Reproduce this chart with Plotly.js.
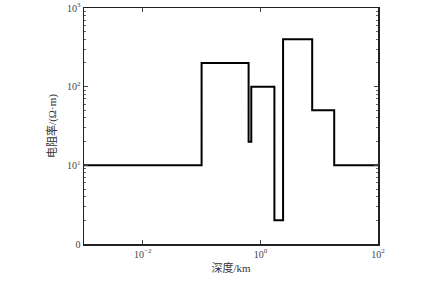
<!DOCTYPE html>
<html><head><meta charset="utf-8">
<script src="https://cdn.plot.ly/plotly-3.0.1.min.js"></script>
<style>html,body{margin:0;padding:0;background:#fff}#c{width:438px;height:282px}</style>
</head><body><div id="c"></div>
<script>
const depthTops = [0.001, 0.1, 0.63, 0.70, 1.73, 2.43, 7.6, 18, 100];
const resistivity = [10, 200, 20, 100, 2, 400, 50, 10, 10];
const xTickVals = [0.01, 1, 100];
const xTickText = ['10<sup>−2</sup>', '10<sup>0</sup>', '10<sup>2</sup>'];
const yTickVals = [1, 10, 100, 1000];
const yTickText = ['0', '10<sup>1</sup>', '10<sup>2</sup>', '10<sup>3</sup>'];
const yMinor = [];
[1, 10, 100].forEach(d => { for (let k = 2; k <= 9; k++) yMinor.push(k * d); });

const font = 'Times New Roman, Liberation Serif, Noto Sans CJK SC, serif';
Plotly.newPlot('c', [{
  x: depthTops, y: resistivity, type: 'scatter', mode: 'lines',
  line: {shape: 'hv', color: '#000', width: 2}
}], {
  width: 438, height: 282,
  margin: {l: 84, r: 60, t: 8, b: 38},
  paper_bgcolor: '#fff', plot_bgcolor: '#fff',
  showlegend: false,
  font: {family: font, color: '#333', size: 10},
  xaxis: {
    type: 'log', range: [-3, 2], showgrid: false, zeroline: false,
    showline: true, linecolor: '#222', linewidth: 1.5, mirror: 'allticks',
    ticks: 'inside', ticklen: 4, tickcolor: '#444',
    tickmode: 'array', tickvals: xTickVals, ticktext: xTickText,
    tickfont: {size: 10, family: font, color: '#444'},
    title: {text: '深度/km', font: {size: 11, family: font, color: '#333'}, standoff: 6}
  },
  yaxis: {
    type: 'log', range: [0, 3], showgrid: false, zeroline: false,
    showline: true, linecolor: '#222', linewidth: 1.5, mirror: 'allticks',
    ticks: 'inside', ticklen: 4, tickcolor: '#444',
    tickmode: 'array', tickvals: yTickVals, ticktext: yTickText,
    tickfont: {size: 10, family: font, color: '#444'},
    minor: {tickmode: 'array', tickvals: yMinor, ticks: 'inside', ticklen: 2, tickcolor: '#666', showgrid: false},
    title: {text: '电阻率/(Ω·m)', font: {size: 11, family: font, color: '#333'}, standoff: 8}
  }
}, {staticPlot: true});
</script></body></html>
